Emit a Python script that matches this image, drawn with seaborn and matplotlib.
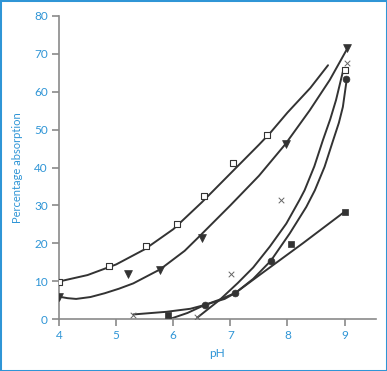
import numpy as np
import pandas as pd
import matplotlib
matplotlib.use("Agg")
import matplotlib.pyplot as plt
from matplotlib.patches import Rectangle
import seaborn as sns

# measured points
open_sq_x = [4.0, 4.88, 5.53, 6.06, 6.53, 7.05, 7.64, 9.0]
open_sq_y = [9.9, 13.9, 19.3, 25.1, 32.5, 41.3, 48.6, 65.7]

tri_x = [4.0, 5.21, 5.77, 6.51, 7.97, 9.05]
tri_y = [5.9, 11.8, 12.9, 21.3, 46.1, 71.6]

cross_x = [5.3, 6.42, 7.01, 7.88, 9.04]
cross_y = [1.05, 0.6, 11.8, 31.3, 67.7]

fill_sq_x = [5.91, 8.07, 9.0]
fill_sq_y = [1.1, 19.8, 28.2]

circ_x = [6.55, 7.09, 7.71, 9.03]
circ_y = [3.7, 6.9, 15.4, 63.4]

# fitted curves
fit_sq_x = [4.0, 4.5, 5.0, 5.5, 6.0, 6.5, 7.0, 7.5, 7.69, 8.0, 8.4, 8.71]
fit_sq_y = [9.9, 11.6, 14.4, 18.4, 23.7, 30.8, 38.4, 46.0, 49.0, 54.5, 61.0, 67.0]

fit_tri_x = [4.0, 4.15, 4.3, 4.55, 4.8, 5.05, 5.3, 5.77, 6.2, 6.47, 7.0, 7.5, 7.96, 8.39, 8.74, 9.04]
fit_tri_y = [5.9, 5.5, 5.3, 5.8, 6.8, 8.0, 9.4, 13.1, 18.0, 22.0, 30.0, 37.8, 46.1, 55.1, 63.1, 71.2]

fit_cross_x = [6.42, 6.81, 7.13, 7.40, 7.69, 7.98, 8.21, 8.30, 8.47, 8.62, 8.75, 8.85, 8.97]
fit_cross_y = [0.35, 5.0, 9.5, 13.6, 19.1, 25.2, 31.4, 34.0, 40.3, 47.2, 52.8, 57.8, 65.3]

fit_circ_x = [5.94, 6.25, 6.55, 6.81, 7.09, 7.40, 7.71, 8.04, 8.33, 8.48, 8.65, 8.80, 8.90, 8.97, 9.04]
fit_circ_y = [0.0, 1.6, 3.7, 5.1, 6.9, 10.6, 15.4, 22.6, 29.6, 34.0, 40.2, 47.2, 51.8, 56.0, 63.5]

fit_fsq_x = [5.3, 5.88, 6.3, 6.55, 6.9, 7.09, 7.51, 8.27, 8.99]
fit_fsq_y = [1.2, 1.9, 2.7, 3.7, 5.3, 6.9, 11.6, 20.0, 28.2]

blue = "#2f95d6"
dark = "#333333"
grey = "#8a8a8a"

sns.set_style("white")
plt.rcParams["font.family"] = ["Lato", "DejaVu Sans"]

fig = plt.figure(figsize=(3.87, 3.71), dpi=100)
ax = fig.add_axes([59 / 387, 1 - 319 / 371, (376 - 59) / 387, (319 - 16) / 371])

for fx, fy in [(fit_sq_x, fit_sq_y), (fit_tri_x, fit_tri_y), (fit_cross_x, fit_cross_y),
               (fit_circ_x, fit_circ_y), (fit_fsq_x, fit_fsq_y)]:
    sns.lineplot(x=fx, y=fy, ax=ax, color=dark, lw=1.4, sort=False, estimator=None)

sns.scatterplot(x=open_sq_x, y=open_sq_y, ax=ax, marker="s", s=22, facecolor="white",
                edgecolor=dark, linewidth=0.8, zorder=5)
sns.scatterplot(x=tri_x, y=tri_y, ax=ax, marker="v", s=32, color=dark, edgecolor=dark,
                linewidth=0.5, zorder=5)
sns.scatterplot(x=cross_x, y=cross_y, ax=ax, marker="x", s=16, color="#666666",
                linewidth=0.7, zorder=5)
sns.scatterplot(x=fill_sq_x, y=fill_sq_y, ax=ax, marker="s", s=24, color=dark,
                edgecolor=dark, linewidth=0.5, zorder=5)
sns.scatterplot(x=circ_x, y=circ_y, ax=ax, marker="o", s=24, color=dark,
                edgecolor=dark, linewidth=0.5, zorder=5)

ax.set_xlim(4, 9.55)
ax.set_ylim(0, 80)
ax.set_xticks([4, 5, 6, 7, 8, 9])
ax.set_yticks(range(0, 81, 10))
for side in ["top", "right"]:
    ax.spines[side].set_visible(False)
for side in ["left", "bottom"]:
    ax.spines[side].set_color(grey)
    ax.spines[side].set_linewidth(1.2)
ax.tick_params(axis="both", length=5, width=1.2, color=grey, labelcolor=blue,
               labelsize=8.5, pad=3, direction="out", left=True, bottom=True)
ax.set_xlabel("pH", color=blue, fontsize=8.5, labelpad=5)
ax.set_ylabel("Percentage absorption", color=blue, fontsize=8, labelpad=8)
ax.patch.set_alpha(0)

fig.patches.append(Rectangle((0, 0), 1, 1, transform=fig.transFigure, fill=False,
                             edgecolor=blue, lw=2.2))

fig.savefig("out.png", dpi=100)
